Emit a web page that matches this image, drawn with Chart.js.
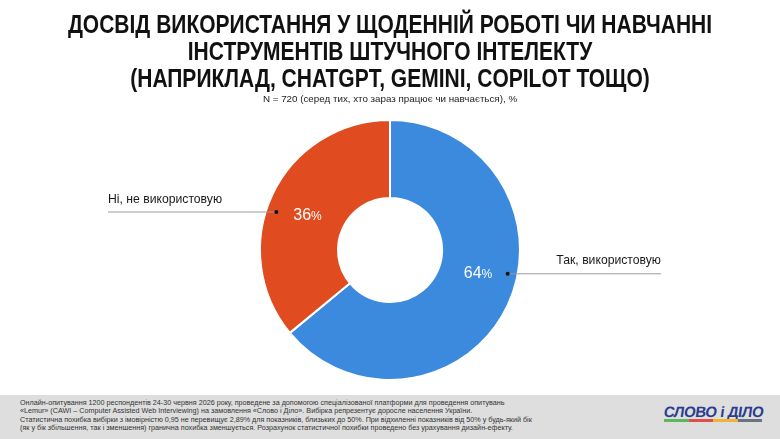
<!DOCTYPE html>
<html>
<head>
<meta charset="utf-8">
<script src="https://cdn.jsdelivr.net/npm/chart.js@4"></script>
<style>
  html, body { margin: 0; padding: 0; background: #fff; }
  #wrap { position: relative; width: 780px; height: 439px; overflow: hidden; font-family: 'Liberation Sans', Arial, sans-serif; }
  #title { position: absolute; left: 0; top: 11px; width: 780px; text-align: center; font-weight: bold; font-size: 25px; line-height: 27px; color: #111; transform: scaleX(0.84); transform-origin: 390px 0; }
  #sub { position: absolute; left: 0; top: 93px; width: 780px; text-align: center; font-size: 9.8px; color: #222; }
  #chart { position: absolute; left: 0; top: 0; }
  #foot { position: absolute; left: 0; top: 395px; width: 780px; height: 44px; background: #dedede; }
  #note { position: absolute; left: 20px; top: 4px; font-size: 7.2px; line-height: 8.4px; color: #333; white-space: nowrap; }
  #logo { position: absolute; left: 664px; top: 8px; font-weight: bold; font-size: 15px; color: #2b3d8e; letter-spacing: -0.4px; transform: skewX(-8deg); }
  #bars { position: absolute; left: 664px; top: 24px; height: 3px; width: 98px; display: flex; }
  #bars span { flex: 1; }
</style>
</head>
<body>
<div id="wrap">
  <canvas id="chart" width="780" height="439"></canvas>
  <div id="title">ДОСВІД ВИКОРИСТАННЯ У ЩОДЕННІЙ РОБОТІ ЧИ НАВЧАННІ<br>ІНСТРУМЕНТІВ ШТУЧНОГО ІНТЕЛЕКТУ<br>(НАПРИКЛАД, CHATGPT, GEMINI, COPILOT ТОЩО)</div>
  <div id="sub">N = 720 (серед тих, хто зараз працює чи навчається), %</div>
  <div id="foot">
    <div id="note">Онлайн-опитування 1200 респондентів 24-30 червня 2026 року, проведене за допомогою спеціалізованої платформи для проведення опитувань<br>«Lemur» (CAWI – Computer Assisted Web Interviewing) на замовлення «Слово і Діло». Вибірка репрезентує доросле населення України.<br>Статистична похибка вибірки з імовірністю 0,95 не перевищує 2,89% для показників, близьких до 50%. При відхиленні показників від 50% у будь-який бік<br>(як у бік збільшення, так і зменшення) гранична похибка зменшується. Розрахунок статистичної похибки проведено без урахування дизайн-ефекту.</div>
    <div id="logo">СЛОВО і ДІЛО</div>
    <div id="bars"><span style="background:#5cb85c"></span><span style="background:#e0504a"></span><span style="background:#f2b233"></span><span style="background:#6b7280"></span></div>
  </div>
</div>
<script>
'use strict';
const categories = ['Так, використовую', 'Ні, не використовую'];
const values = [64, 36];
const colors = ['#3b8ade', '#e04c1f'];

// callout: label side and angular shift of the anchor dot (degrees)
const calloutSide = ['right', 'left'];
const calloutShift = [-14, -6.5];

const calloutPlugin = {
  id: 'callouts',
  afterDatasetsDraw(chart) {
    const ctx = chart.ctx;
    const meta = chart.getDatasetMeta(0);
    meta.data.forEach((arc, i) => {
      const { x, y, startAngle, endAngle, innerRadius, outerRadius } = arc.getProps(['x', 'y', 'startAngle', 'endAngle', 'innerRadius', 'outerRadius'], true);
      const mid = (startAngle + endAngle) / 2 + calloutShift[i] * Math.PI / 180;
      const rDot = outerRadius - 10;
      const dx = Math.cos(mid) * rDot;
      const dy = Math.sin(mid) * rDot;
      const dotX = x + dx;
      const dotY = y + dy;
      const rMid = (innerRadius + outerRadius) / 2;
      const lx = x + Math.sign(dx) * Math.sqrt(Math.max(rMid * rMid - dy * dy, 0));

      ctx.save();
      // value label
      ctx.fillStyle = '#fff';
      ctx.textBaseline = 'middle';
      ctx.font = '16px "Liberation Sans", Arial, sans-serif';
      const num = String(values[i]);
      const nw = ctx.measureText(num).width;
      ctx.font = '12px "Liberation Sans", Arial, sans-serif';
      const pw = ctx.measureText('%').width;
      const startX = lx - (nw + pw) / 2;
      const ty = dotY + (dx < 0 ? 4 : 0);
      ctx.textAlign = 'left';
      ctx.font = '16px "Liberation Sans", Arial, sans-serif';
      ctx.fillText(num, startX, ty);
      ctx.font = '12px "Liberation Sans", Arial, sans-serif';
      ctx.fillText('%', startX + nw, ty + 1);

      // callout line
      const endX = calloutSide[i] === 'right' ? 661 : 108;
      ctx.strokeStyle = '#9a9a9a';
      ctx.lineWidth = 1;
      ctx.beginPath();
      ctx.moveTo(dotX, dotY + 0.5);
      ctx.lineTo(endX, dotY + 0.5);
      ctx.stroke();
      ctx.fillStyle = '#111';
      ctx.beginPath();
      ctx.arc(dotX, dotY + 0.5, 2, 0, Math.PI * 2);
      ctx.fill();

      // category label
      ctx.fillStyle = '#1a1a1a';
      ctx.font = '12.2px "Liberation Sans", Arial, sans-serif';
      ctx.textBaseline = 'alphabetic';
      ctx.textAlign = calloutSide[i] === 'right' ? 'right' : 'left';
      ctx.fillText(categories[i], endX, dotY - 9);
      ctx.restore();
    });
  }
};

const chart = new Chart(document.getElementById('chart').getContext('2d'), {
  type: 'doughnut',
  data: {
    labels: categories,
    datasets: [{
      data: values,
      backgroundColor: colors,
      borderColor: '#ffffff',
      borderWidth: 2
    }]
  },
  options: {
    responsive: false,
    animation: false,
    cutout: '40%',
    layout: { padding: { top: 119, bottom: 58, left: 0, right: 0 } },
    plugins: {
      legend: { display: false },
      tooltip: { enabled: false }
    }
  },
  plugins: [calloutPlugin]
});
</script>
</body>
</html>
